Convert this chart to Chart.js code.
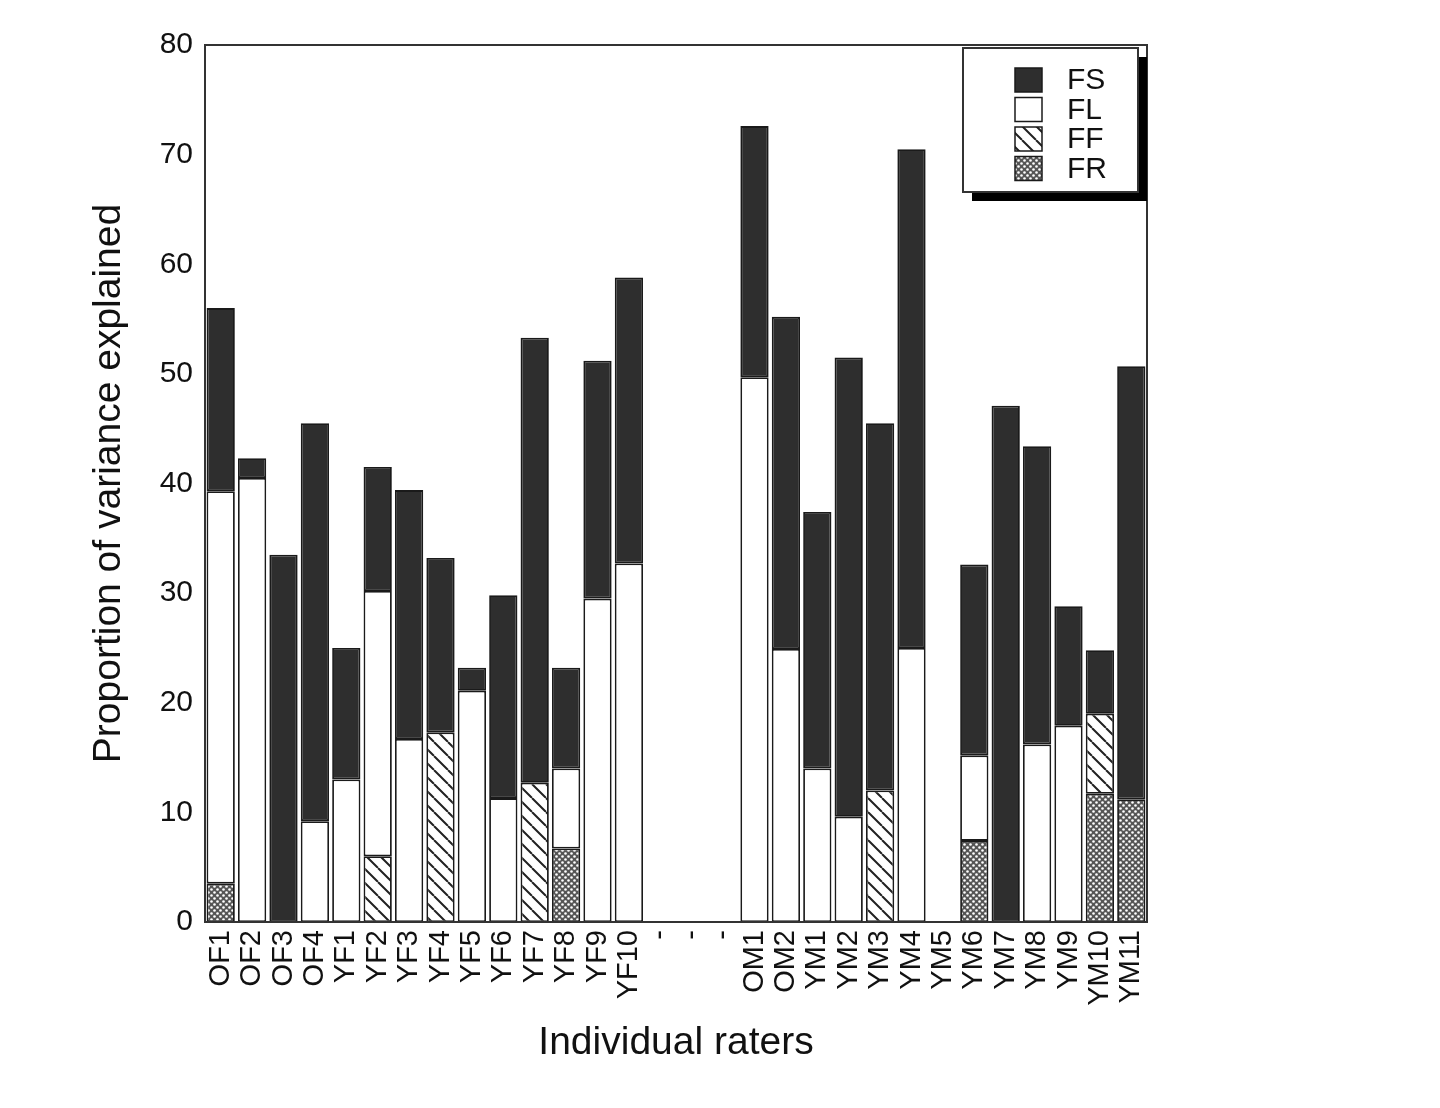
<!DOCTYPE html>
<html>
<head>
<meta charset="utf-8">
<script src="https://cdn.jsdelivr.net/npm/chart.js@4.4.1/dist/chart.umd.min.js"></script>
<style>
html,body{margin:0;padding:0;background:#fff;}
#wrap{width:1440px;height:1108px;position:relative;}
</style>
</head>
<body>
<div id="wrap"><canvas id="c"></canvas></div>
<script>
// ---- data ----
const categories = ['OF1','OF2','OF3','OF4','YF1','YF2','YF3','YF4','YF5','YF6','YF7','YF8','YF9','YF10','-','-','-',
  'OM1','OM2','YM1','YM2','YM3','YM4','YM5','YM6','YM7','YM8','YM9','YM10','YM11'];
const seriesNames = ['FR','FF','FL','FS'];
const FR = [3.5,0,0,0,0,0,0,0,0,0,0,6.7,0,0,0,0,0,  0,0,0,0,0,0,0,7.4,0,0,0,11.7,11.2];
const FF = [0,0,0,0,0,6.0,0,17.3,0,0,12.7,0,0,0,0,0,0,  0,0,0,0,12.0,0,0,0,0,0,0,7.3,0];
const FL = [35.8,40.5,0,9.2,13.0,24.2,16.7,0,21.1,11.3,0,7.3,29.5,32.7,0,0,0,  49.7,24.9,14.0,9.6,0,25.0,0,7.8,0,16.2,17.9,0,0];
const FS = [16.7,1.8,33.5,36.3,12.0,11.3,22.7,15.9,2.1,18.5,40.6,9.2,21.7,26.1,0,0,0,  22.9,30.3,23.4,41.9,33.5,45.5,0,17.4,47.1,27.2,10.9,5.8,39.5];
const yTicks = [0,10,20,30,40,50,60,70,80];
const xTitle = 'Individual raters';
const yTitle = 'Proportion of variance explained';

// ---- fills ----
function hatchPattern(){
  const s = 14, c = document.createElement('canvas'); c.width = c.height = s;
  const x = c.getContext('2d');
  x.fillStyle = '#fff'; x.fillRect(0,0,s,s);
  x.strokeStyle = '#222'; x.lineWidth = 2;
  x.beginPath();
  for (const o of [-s,0,s]) { x.moveTo(o,0); x.lineTo(o+s,s); }
  x.stroke();
  return x.createPattern(c,'repeat');
}
function dotPattern(){
  const s = 6, c = document.createElement('canvas'); c.width = c.height = s;
  const x = c.getContext('2d');
  x.fillStyle = '#555'; x.fillRect(0,0,s,s);
  x.fillStyle = '#fff';
  for (const [px,py] of [[1.5,1.5],[4.5,4.5]]) { x.beginPath(); x.arc(px,py,1.3,0,Math.PI*2); x.fill(); }
  return x.createPattern(c,'repeat');
}
const fills = { FR: dotPattern(), FF: hatchPattern(), FL: '#ffffff', FS: '#2e2e2e' };
const values = { FR, FF, FL, FS };

const FONT = 'Liberation Sans, Arial, Helvetica, sans-serif';

const datasets = seriesNames.map(n => ({
  label: n,
  data: values[n].map(v => v === 0 ? null : v),
  backgroundColor: fills[n],
  borderColor: '#1a1a1a',
  borderWidth: 1.8,
  borderSkipped: false,
  barPercentage: 0.9,
  categoryPercentage: 1.0
}));

const framePlugin = {
  id: 'frame',
  afterDatasetsDraw(chart){
    const {ctx, chartArea:a} = chart;
    ctx.save();
    ctx.strokeStyle = '#333'; ctx.lineWidth = 2;
    ctx.strokeRect(a.left, a.top, a.right - a.left, a.bottom - a.top);
    ctx.restore();
  }
};

const boxLegend = {
  id: 'boxLegend',
  afterDraw(chart){
    const {ctx, chartArea:a} = chart;
    const w = 175, h = 144, sh = 9;
    const bx = a.right - w - 9, by = a.top + 3;
    ctx.save();
    ctx.fillStyle = '#000';
    ctx.fillRect(bx + sh, by + sh, w, h);
    ctx.fillStyle = '#fff';
    ctx.fillRect(bx, by, w, h);
    ctx.strokeStyle = '#333'; ctx.lineWidth = 2;
    ctx.strokeRect(bx, by, w, h);
    const ds = chart.data.datasets.slice().reverse();
    ds.forEach((d, i) => {
      const sx = bx + 52, sy = by + 20 + i * 29.5;
      ctx.fillStyle = d.backgroundColor;
      ctx.fillRect(sx, sy, 27, 24);
      ctx.strokeStyle = '#1a1a1a'; ctx.lineWidth = 1.5;
      ctx.strokeRect(sx, sy, 27, 24);
      ctx.fillStyle = '#111';
      ctx.font = '30px ' + FONT;
      ctx.textBaseline = 'middle';
      ctx.textAlign = 'left';
      ctx.fillText(d.label, bx + 104, sy + 13);
    });
    ctx.restore();
  }
};

new Chart(document.getElementById('c'), {
  type: 'bar',
  data: { labels: categories, datasets },
  options: {
    responsive: true,
    maintainAspectRatio: false,
    animation: false,
    layout: { padding: { top: 45, right: 293, left: 0, bottom: 0 } },
    plugins: { legend: { display: false }, tooltip: { enabled: false } },
    scales: {
      x: {
        stacked: true,
        grid: { display: false, drawTicks: false },
        border: { display: true, color: '#333', width: 2 },
        ticks: { autoSkip: false, minRotation: 90, maxRotation: 90, padding: 8, color: '#111',
                 font: { family: FONT, size: 29 } },
        title: { display: true, text: xTitle, color: '#111', font: { family: FONT, size: 39 },
                 padding: { top: 0, bottom: 41 } },
        afterFit(s){ s.height = 186; }
      },
      y: {
        stacked: true,
        min: 0, max: 80,
        afterBuildTicks(s){ s.ticks = yTicks.map(v => ({ value: v })); },
        grid: { display: false, drawTicks: false },
        border: { display: true, color: '#333', width: 2 },
        ticks: { padding: 12, color: '#111', font: { family: FONT, size: 30 } },
        title: { display: true, text: yTitle, color: '#111', font: { family: FONT, size: 39 },
                 padding: { top: 86, bottom: 0 } },
        afterFit(s){ s.width = 205; }
      }
    }
  },
  plugins: [framePlugin, boxLegend]
});
</script>
</body>
</html>
